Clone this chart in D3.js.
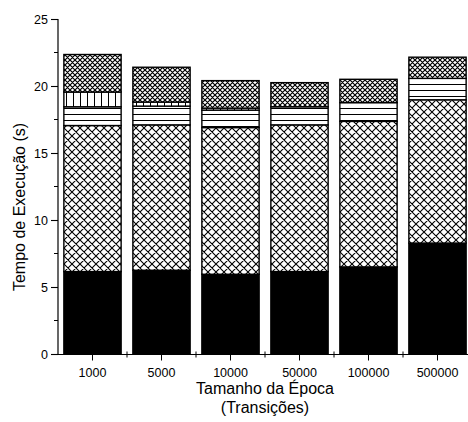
<!DOCTYPE html>
<html><head><meta charset="utf-8">
<script src="https://cdn.jsdelivr.net/npm/d3@7"></script>
<style>body{margin:0;background:#fff}svg{display:block}text{font-family:"Liberation Sans",Arial,sans-serif;fill:#000}</style>
</head><body><svg id="c" width="468" height="422"></svg>
<script>
const categories = ["1000","5000","10000","50000","100000","500000"];
// stack components (seconds), bottom to top
const solid      = [6.15, 6.25, 5.95, 6.15, 6.50, 8.28];
const crossLarge = [10.90, 10.85, 10.95, 10.95, 10.86, 10.69];
const horizontal = [1.40, 1.40, 1.30, 1.35, 1.40, 1.60];
const vertical   = [1.10, 0.30, 0.15, 0.00, 0.00, 0.00];
const crossDense = [2.80, 2.60, 2.05, 1.80, 1.74, 1.58];
const yTicks = [0,5,10,15,20,25];
const yMinor = [2.5,7.5,12.5,17.5,22.5];

const keys = ["solid","crossLarge","horizontal","vertical","crossDense"];
const series = [solid, crossLarge, horizontal, vertical, crossDense];
const table = categories.map((c,i)=>{const o={cat:c}; keys.forEach((k,j)=>o[k]=series[j][i]); return o;});

const svg = d3.select("#c");
const defs = svg.append("defs");
let p = defs.append("pattern").attr("id","crossLarge").attr("patternUnits","userSpaceOnUse").attr("width",8).attr("height",8);
p.append("rect").attr("width",8).attr("height",8).attr("fill","#fff");
p.append("path").attr("d","M0,0L8,8M8,0L0,8M-1,7L1,9M7,-1L9,1M-1,1L1,-1M7,9L9,7").attr("stroke","#000").attr("stroke-width",1.1);
p = defs.append("pattern").attr("id","crossDense").attr("patternUnits","userSpaceOnUse").attr("width",5).attr("height",5);
p.append("rect").attr("width",5).attr("height",5).attr("fill","#fff");
p.append("path").attr("d","M0,0L5,5M5,0L0,5M-1,4L1,6M4,-1L6,1M-1,1L1,-1M4,6L6,4").attr("stroke","#000").attr("stroke-width",1.2);
p = defs.append("pattern").attr("id","horizontal").attr("patternUnits","userSpaceOnUse").attr("width",8).attr("height",6);
p.append("rect").attr("width",8).attr("height",6).attr("fill","#fff");
p.append("path").attr("d","M0,0.5L8,0.5").attr("stroke","#000").attr("stroke-width",1);
p = defs.append("pattern").attr("id","vertical").attr("patternUnits","userSpaceOnUse").attr("width",7).attr("height",8);
p.append("rect").attr("width",7).attr("height",8).attr("fill","#fff");
p.append("path").attr("d","M3.5,0L3.5,8").attr("stroke","#000").attr("stroke-width",1);

const x = d3.scaleBand().domain(categories).range([58,472]).paddingInner(0.17).paddingOuter(0.085);
const y = d3.scaleLinear().domain([0,25]).range([354,19]);

const stacked = d3.stack().keys(keys)(table);
const fills = {solid:"#000", crossLarge:"url(#crossLarge)", horizontal:"url(#horizontal)", vertical:"url(#vertical)", crossDense:"url(#crossDense)"};

svg.append("g").selectAll("g").data(stacked).join("g")
  .attr("fill",d=>fills[d.key])
  .selectAll("rect").data(d=>d.filter(s=>s[1]-s[0]>0)).join("rect")
  .attr("x",d=>x(d.data.cat)).attr("width",x.bandwidth())
  .attr("y",d=>y(d[1])).attr("height",d=>y(d[0])-y(d[1]))
  .attr("stroke","#000").attr("stroke-width",1.4);

const gy = svg.append("g").attr("transform","translate(58,0)");
gy.call(d3.axisLeft(y).tickValues(yTicks).tickSize(7).tickPadding(3).tickFormat(d3.format("d")));
gy.selectAll("text").attr("font-size",12.5);
gy.select(".domain").attr("d","M0,19V354").attr("stroke-width",1.2);
gy.selectAll(".tick line").attr("stroke-width",1.1);
gy.selectAll(".minor").data(yMinor).join("line").attr("class","minor")
  .attr("x1",-4).attr("x2",0).attr("y1",d=>y(d)).attr("y2",d=>y(d)).attr("stroke","#000");

const gx = svg.append("g").attr("transform","translate(0,354.5)");
gx.call(d3.axisBottom(x).tickSize(6).tickPadding(8).tickSizeOuter(0));
gx.selectAll("text").attr("font-size",12.5);
gx.select(".domain").attr("d","M58,0H472").attr("stroke-width",1.2);
const bounds = categories.slice(1).map(c=>x(c)-x.step()*x.paddingInner()/2);
gx.selectAll(".minor").data(bounds).join("line").attr("class","minor")
  .attr("x1",d=>d).attr("x2",d=>d).attr("y1",-3).attr("y2",3).attr("stroke","#000");

svg.append("text").attr("x",265).attr("y",394).attr("text-anchor","middle").attr("font-size",16).text("Tamanho da Época");
svg.append("text").attr("x",265).attr("y",413).attr("text-anchor","middle").attr("font-size",16).text("(Transições)");
svg.append("text").attr("transform","translate(25,207) rotate(-90)").attr("text-anchor","middle").attr("font-size",16).text("Tempo de Execução (s)");
</script></body></html>
